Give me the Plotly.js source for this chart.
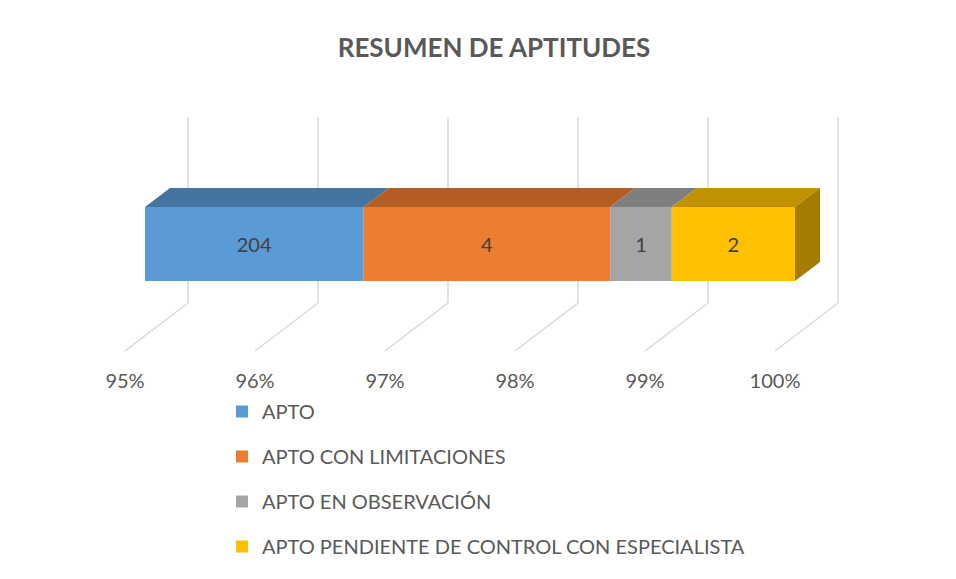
<!DOCTYPE html>
<html>
<head>
<meta charset="utf-8">
<script src="https://cdn.plot.ly/plotly-3.0.1.min.js"></script>
<style>html,body{margin:0;padding:0;background:#fff;}#chart{width:956px;height:579px;}</style>
</head>
<body>
<div id="chart"></div>
<script>
// ---- data ----
const categories = ['APTO', 'APTO CON LIMITACIONES', 'APTO EN OBSERVACIÓN', 'APTO PENDIENTE DE CONTROL CON ESPECIALISTA'];
const counts = [204, 4, 1, 2];
const tickValues = [0.95, 0.96, 0.97, 0.98, 0.99, 1.00];
const tickLabels = ['95%', '96%', '97%', '98%', '99%', '100%'];

// ---- styles ----
const frontColors = ['#5B9BD5', '#ED7D31', '#A5A5A5', '#FFC000'];
const topColors = ['#44749F', '#B45D24', '#7F7F7F', '#C09100'];
const sideColor = '#A37C00';
const W = 956, H = 579;
const py = p => 1 - p / H;
const FONT = 'Lato, "Open Sans", sans-serif';
const xMin = 0.95;
const pxPerUnit = 13000;          // 130 px per 1 %
const depthBar = 25 / pxPerUnit;  // bar depth offset (x units)
const depthFloor = 63 / pxPerUnit;
const yPxUnit = 74;               // bar thickness in px = 1 y unit
const topRise = 19 / yPxUnit;

const total = counts.reduce((a, b) => a + b, 0);
let cum = 0;
const segs = counts.map(c => { const s = cum / total; cum += c; return [s, cum / total]; });

const traces = categories.map((name, i) => {
  const base = Math.max(segs[i][0], xMin);
  return {
    type: 'bar', orientation: 'h', name: name,
    y: [0], x: [segs[i][1] - base], base: [base], width: [1],
    text: [String(counts[i])], textposition: 'inside', insidetextanchor: 'middle',
    textfont: {family: FONT, size: 20, color: '#404040'},
    marker: {color: frontColors[i], line: {width: 0}},
    legendgroup: 'g' + i, hoverinfo: 'skip', xaxis: 'x', yaxis: 'y'
  };
});
traces.push({type: 'scatter', mode: 'markers', x: [xMin], y: [0], xaxis: 'x2', yaxis: 'y',
  marker: {opacity: 0}, showlegend: false, hoverinfo: 'skip'});

const shapes = [];
// floor / back-wall gridlines
tickValues.forEach(v => {
  shapes.push({type: 'path', xref: 'x2', yref: 'paper', layer: 'below',
    path: `M${v},${py(351)} L${v + depthFloor},${py(303)} L${v + depthFloor},${py(117)}`,
    line: {color: '#D9D9D9', width: 1.5}});
});
// top faces
segs.forEach((s, i) => {
  const a = Math.max(s[0], xMin), b = s[1];
  shapes.push({type: 'path', xref: 'x', yref: 'y', layer: 'above',
    path: `M${a},0.5 L${a + depthBar},${0.5 + topRise} L${b + depthBar},${0.5 + topRise} L${b},0.5 Z`,
    fillcolor: topColors[i], line: {width: 0}});
});
// right side face
const last = segs[segs.length - 1][1];
shapes.push({type: 'path', xref: 'x', yref: 'y', layer: 'above',
  path: `M${last},0.5 L${last + depthBar},${0.5 + topRise} L${last + depthBar},${-0.5 + topRise} L${last},-0.5 Z`,
  fillcolor: sideColor, line: {width: 0}});

const yLow = -0.5 - (300 - 281) / yPxUnit;
const yHigh = 0.5 + (207 - 150) / yPxUnit;

const layout = {
  width: W, height: H,
  margin: {l: 0, r: 0, t: 0, b: 0},
  paper_bgcolor: '#FFFFFF', plot_bgcolor: 'rgba(0,0,0,0)',
  barmode: 'overlay',
  title: {text: '<b>RESUMEN DE APTITUDES</b>', x: 494 / W, xanchor: 'center', xref: 'paper',
    y: py(48), yref: 'paper', yanchor: 'middle',
    font: {family: FONT, size: 26, color: '#595959'}},
  xaxis: {domain: [145 / W, 845 / W], range: [xMin, xMin + 700 / pxPerUnit], visible: false, fixedrange: true},
  xaxis2: {domain: [125 / W, 845 / W], range: [xMin, xMin + 720 / pxPerUnit], anchor: 'free', position: py(367),
    tickvals: tickValues, ticktext: tickLabels, ticks: '', showgrid: false, showline: false, zeroline: false,
    tickfont: {family: FONT, size: 20, color: '#595959'}, fixedrange: true},
  yaxis: {domain: [py(300), py(150)], range: [yLow, yHigh], visible: false, fixedrange: true, anchor: 'x'},
  showlegend: true,
  legend: {orientation: 'v', x: 222 / W, xanchor: 'left', y: py(392), yanchor: 'top',
    traceorder: 'grouped', tracegroupgap: 16, bgcolor: 'rgba(0,0,0,0)',
    font: {family: FONT, size: 20, color: '#595959'}},
  shapes: shapes
};

Plotly.newPlot('chart', traces, layout, {displayModeBar: false, staticPlot: true});
</script>
</body>
</html>
